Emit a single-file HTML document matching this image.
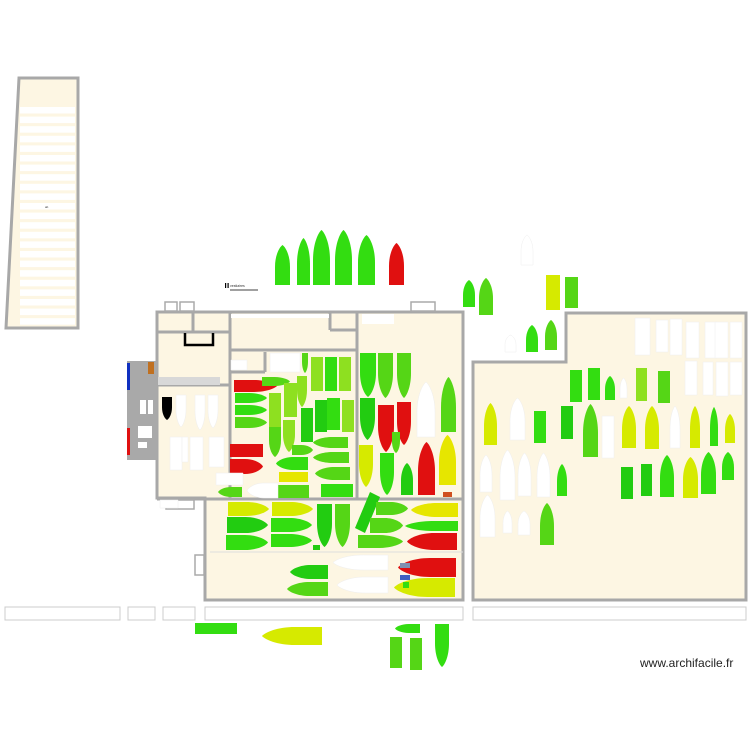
<!DOCTYPE html>
<html><head><meta charset="utf-8"><style>
html,body{margin:0;padding:0;background:#fff;width:750px;height:750px;overflow:hidden}
svg{display:block}
text{font-family:"Liberation Sans",sans-serif}
</style></head><body>
<svg id="s" width="750" height="750" viewBox="0 0 750 750" xmlns="http://www.w3.org/2000/svg">
<polygon points="19,78 78,78 78,328 6,328" fill="#fdf6e3" stroke="#a8a8a8" stroke-width="3"/>
<g id="stripes"></g>
<text x="45" y="208" font-size="3" fill="#333">ab</text>
<rect x="5" y="607" width="115" height="13" fill="#fff" stroke="#ccc" stroke-width="1"/>
<rect x="128" y="607" width="27" height="13" fill="#fff" stroke="#ccc"/>
<rect x="163" y="607" width="32" height="13" fill="#fff" stroke="#ccc"/>
<rect x="205" y="607" width="258" height="13" fill="#fff" stroke="#ccc"/>
<rect x="473" y="607" width="273" height="13" fill="#fff" stroke="#ccc"/>
<polygon points="157,312 463,312 463,600 205,600 205,498 157,498" fill="#fdf6e3" stroke="#a8a8a8" stroke-width="3"/>
<g stroke="#a8a8a8" stroke-width="3" fill="none">
<line x1="230" y1="312" x2="230" y2="385"/>
<line x1="157" y1="332" x2="230" y2="332"/>
<line x1="193" y1="312" x2="193" y2="332"/>
<line x1="157" y1="385" x2="230" y2="385"/>
<line x1="230" y1="350" x2="357" y2="350"/>
<line x1="357" y1="312" x2="357" y2="500"/>
<line x1="230" y1="350" x2="230" y2="500"/>
<line x1="157" y1="499" x2="463" y2="499"/>
<line x1="265" y1="352" x2="265" y2="372"/>
<line x1="230" y1="372" x2="265" y2="372"/>
<line x1="330" y1="312" x2="330" y2="330"/>
<line x1="330" y1="330" x2="357" y2="330"/>
</g>
<line x1="210" y1="552" x2="463" y2="552" stroke="#ddd" stroke-width="1"/>
<rect x="231" y="314" width="98" height="4" fill="#fff"/>
<rect x="158" y="377" width="62" height="8" fill="#d8d8d8"/>
<path d="M185,333 V345 H213 V333" fill="none" stroke="#000" stroke-width="2.5"/>
<polygon points="473,362 566,362 566,313 746,313 746,600 473,600" fill="#fdf6e3" stroke="#a8a8a8" stroke-width="3"/>
<rect x="127" y="361" width="30" height="99" fill="#a9a9a9"/>
<rect x="127" y="363" width="3" height="27" fill="#1030c0"/>
<rect x="127" y="428" width="3" height="27" fill="#e01010"/>
<rect x="140" y="400" width="6" height="14" fill="#fff"/>
<rect x="148" y="400" width="5" height="14" fill="#fff"/>
<rect x="138" y="426" width="14" height="12" fill="#fff"/>
<rect x="138" y="442" width="9" height="6" fill="#fff"/>
<rect x="148" y="362" width="6" height="12" fill="#c07020"/>
<g fill="#fff" stroke="#aaa" stroke-width="1.5">
<rect x="165" y="302" width="12" height="9"/><rect x="180" y="302" width="14" height="9"/>
<rect x="411" y="302" width="24" height="9"/>
<rect x="166" y="500" width="28" height="9"/>
<rect x="195" y="555" width="9" height="20"/>
</g>
<rect x="362" y="314" width="32" height="10" fill="#fff"/>
<text x="230" y="287" font-size="3.5" fill="#333">vestiaires</text>
<line x1="230" y1="290" x2="258" y2="290" stroke="#000" stroke-width="0.7"/>
<rect x="225" y="283" width="1.2" height="5" fill="#000"/><rect x="227.5" y="283" width="1.2" height="5" fill="#000"/>
<g id="shapes"></g>
<text x="640" y="667" font-size="12" fill="#222">www.archifacile.fr</text>
</svg>
<script>
var S=document.getElementById('shapes'),NS='http://www.w3.org/2000/svg';
var st=document.getElementById('stripes');
for(var y=107;y<320;y+=9.6){var r=document.createElementNS(NS,'rect');r.setAttribute('x',20);r.setAttribute('y',y);r.setAttribute('width',55);r.setAttribute('height',6.5);r.setAttribute('fill','#fff');st.appendChild(r);}
var C={g:'#33dd11',G:'#22cc11',m:'#55d616',l:'#8ee020',y:'#e6e600',Y:'#d6ea00',r:'#e01010',w:'#ffffff',k:'#000'};
function p(d,c){var e=document.createElementNS(NS,'path');e.setAttribute('d',d);e.setAttribute('fill',C[c]||c);if(c=='w'){e.setAttribute('stroke','#eee');e.setAttribute('stroke-width','0.5');}S.appendChild(e);}
function U(x1,x2,y1,y2,c){var w=x2-x1,h=y2-y1,cx=(x1+x2)/2;p('M'+x1+','+y2+'L'+x1+','+(y1+h*.55)+'C'+x1+','+(y1+h*.25)+' '+(cx-w*.2)+','+(y1+h*.05)+' '+cx+','+y1+'C'+(cx+w*.2)+','+(y1+h*.05)+' '+x2+','+(y1+h*.25)+' '+x2+','+(y1+h*.55)+'L'+x2+','+y2+'Z',c);}
function D(x1,x2,y1,y2,c){var w=x2-x1,h=y2-y1,cx=(x1+x2)/2;p('M'+x1+','+y1+'L'+x1+','+(y2-h*.55)+'C'+x1+','+(y2-h*.25)+' '+(cx-w*.2)+','+(y2-h*.05)+' '+cx+','+y2+'C'+(cx+w*.2)+','+(y2-h*.05)+' '+x2+','+(y2-h*.25)+' '+x2+','+(y2-h*.55)+'L'+x2+','+y1+'Z',c);}
function R(x1,x2,y1,y2,c){var w=x2-x1,h=y2-y1,cy=(y1+y2)/2;p('M'+x1+','+y1+'L'+(x2-w*.55)+','+y1+'C'+(x2-w*.25)+','+y1+' '+(x2-w*.05)+','+(cy-h*.2)+' '+x2+','+cy+'C'+(x2-w*.05)+','+(cy+h*.2)+' '+(x2-w*.25)+','+y2+' '+(x2-w*.55)+','+y2+'L'+x1+','+y2+'Z',c);}
function L(x1,x2,y1,y2,c){var w=x2-x1,h=y2-y1,cy=(y1+y2)/2;p('M'+x2+','+y1+'L'+(x1+w*.55)+','+y1+'C'+(x1+w*.25)+','+y1+' '+(x1+w*.05)+','+(cy-h*.2)+' '+x1+','+cy+'C'+(x1+w*.05)+','+(cy+h*.2)+' '+(x1+w*.25)+','+y2+' '+(x1+w*.55)+','+y2+'L'+x2+','+y2+'Z',c);}
function B(x1,x2,y1,y2,c){p('M'+x1+','+y1+'H'+x2+'V'+y2+'H'+x1+'Z',c);}
U(275,290,245,285,'g');U(297,310,238,285,'g');U(313,330,230,285,'g');U(335,352,230,285,'g');U(358,375,235,285,'g');U(389,404,243,285,'r');
U(463,475,280,307,'g');U(479,493,278,315,'m');B(546,560,275,310,'Y');B(565,578,277,308,'m');U(521,533,235,265,'w');U(526,538,325,352,'g');U(545,557,320,350,'m');U(505,516,335,352,'w');
var wr=[[635,650,318,355],[656,668,320,352],[670,682,319,355],[686,699,322,358],[705,717,322,358],[715,728,322,358],[730,742,322,358],[685,697,361,395],[703,713,362,395],[716,728,362,396],[730,742,362,395]];
for(var i=0;i<wr.length;i++)B(wr[i][0],wr[i][1],wr[i][2],wr[i][3],'w');
B(570,582,370,402,'g');B(588,600,368,400,'g');U(605,615,376,400,'g');U(620,627,378,398,'w');B(636,647,368,401,'l');B(658,670,371,403,'m');
U(484,497,403,445,'Y');U(510,525,398,440,'w');B(534,546,411,443,'g');B(561,573,406,439,'G');U(583,598,404,457,'m');B(602,614,416,458,'w');U(622,636,406,448,'Y');U(645,659,406,449,'Y');U(670,680,406,448,'w');U(690,700,406,448,'Y');U(710,718,407,446,'g');U(725,735,414,443,'Y');
U(480,492,455,492,'w');U(500,515,450,500,'w');U(518,531,453,496,'w');U(537,550,453,497,'w');U(557,567,464,496,'g');
B(621,633,467,499,'G');B(641,652,464,496,'G');U(660,674,455,497,'g');U(683,698,457,498,'Y');U(701,716,452,494,'g');U(722,734,452,480,'g');
U(480,495,495,537,'w');U(503,512,511,533,'w');U(518,530,511,535,'w');U(540,554,503,545,'m');
R(234,277,380,392,'r');R(235,267,393,403,'g');R(235,267,405,415,'g');R(235,267,417,428,'m');R(262,290,377,386,'m');
B(269,281,393,427,'l');B(284,297,383,417,'l');B(311,323,357,391,'l');B(325,337,357,391,'g');B(339,351,357,391,'l');
D(297,307,376,407,'l');D(302,308,353,373,'m');B(301,313,408,442,'G');B(315,327,400,432,'G');B(327,340,398,430,'g');B(342,354,400,432,'l');
D(269,281,427,457,'m');D(283,295,420,452,'l');R(292,313,445,455,'m');L(313,348,437,448,'m');L(313,349,452,463,'m');L(276,308,457,470,'g');L(315,350,467,480,'m');
B(230,263,444,457,'r');R(230,263,459,474,'r');B(279,308,472,482,'y');B(278,309,485,498,'m');B(321,353,484,497,'g');
L(247,278,483,498,'w');L(218,242,487,497,'m');B(216,243,473,485,'w');B(231,247,360,370,'w');B(270,300,353,372,'w');
D(162,172,397,420,'k');D(176,186,395,427,'w');D(195,205,395,430,'w');D(208,218,395,428,'w');
B(170,182,437,470,'w');B(182,188,437,462,'w');B(190,203,437,470,'w');B(209,224,437,467,'w');
D(360,376,353,397,'g');D(378,393,353,398,'m');D(397,411,353,398,'m');D(360,375,398,440,'G');
D(378,394,405,452,'r');D(397,411,402,445,'r');D(392,400,432,453,'m');D(359,373,445,487,'Y');D(380,394,453,495,'g');U(401,413,463,495,'G');
U(417,435,382,437,'w');U(418,435,442,495,'r');U(441,456,377,432,'m');U(439,456,435,485,'y');B(443,452,492,497,'#d05020');
R(228,269,502,516,'Y');R(272,313,502,516,'Y');R(227,268,517,533,'G');R(271,312,518,532,'g');R(226,268,535,550,'g');R(271,312,534,547,'g');
D(317,332,504,547,'G');D(335,350,504,547,'m');
p('M355,528 L370,492 L380,497 L365,533 Z','G');
R(376,408,502,515,'m');L(411,458,503,517,'y');R(370,403,518,533,'m');L(405,458,521,531,'g');R(358,403,535,548,'m');L(407,457,533,550,'r');
L(290,328,565,579,'G');L(287,328,582,596,'m');L(333,388,555,570,'w');L(337,388,577,593,'w');L(398,456,558,577,'r');L(394,455,578,597,'Y');
B(400,410,563,568,'#8090b0');B(400,410,575,580,'#4060c0');B(313,320,545,550,'G');B(403,409,582,588,'g');
B(195,237,623,634,'g');L(262,322,627,645,'Y');L(395,420,624,633,'g');B(390,402,637,668,'m');B(410,422,638,670,'m');D(435,449,624,667,'g');
B(160,178,500,508,'w');
</script>
</body></html>
